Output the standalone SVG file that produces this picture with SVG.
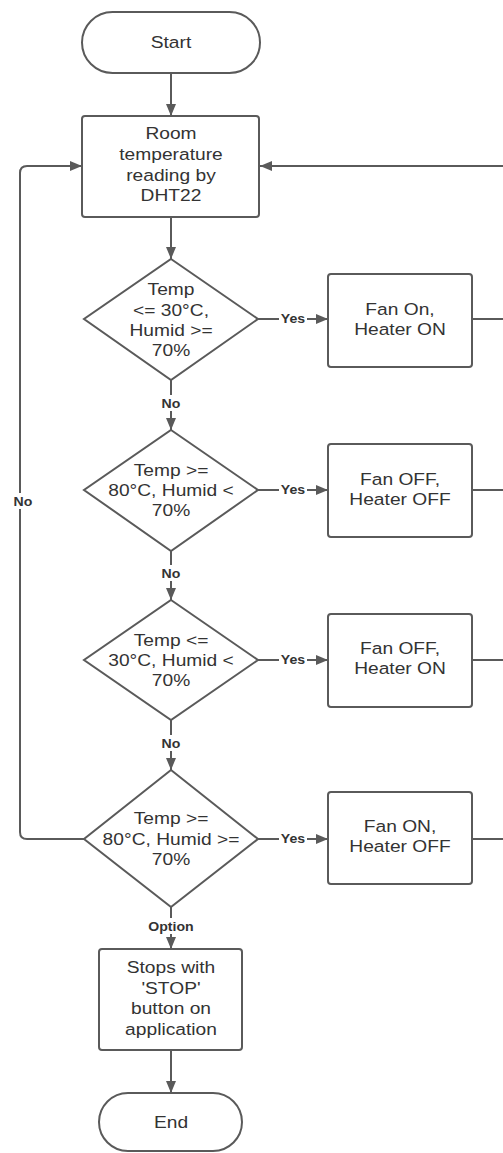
<svg xmlns="http://www.w3.org/2000/svg" width="503" height="1153" viewBox="0 0 503 1153">
<style>
.n{fill:#fff;stroke:#5a5a5a;stroke-width:2}
.c{fill:none;stroke:#5a5a5a;stroke-width:2}
.t{font-family:"Liberation Sans",Arial,sans-serif;font-size:17px;fill:#333;text-anchor:middle}
.l{font-family:"Liberation Sans",Arial,sans-serif;font-size:12.5px;font-weight:bold;fill:#333;text-anchor:middle}
.bg{fill:#fff}
</style>
<defs>
<marker id="a" markerUnits="userSpaceOnUse" markerWidth="12" markerHeight="10" refX="12" refY="5" orient="auto">
<path d="M0,0 L12,5 L0,10 z" fill="#5a5a5a"/>
</marker>
</defs>
<g id="connectors">
<line class="c" x1="171" y1="73" x2="171" y2="116" marker-end="url(#a)"/>
<line class="c" x1="171" y1="217" x2="171" y2="259" marker-end="url(#a)"/>
<line class="c" x1="503" y1="166" x2="260" y2="166" marker-end="url(#a)"/>
<path class="c" d="M84,839 H27 Q20,839 20,832 V173 Q20,166 27,166 H82" marker-end="url(#a)"/>
<rect class="bg" x="10" y="493" width="22" height="16"/>
<text class="l" transform="translate(23 0) scale(1.13 1)" x="0" y="506">No</text>
<line class="c" x1="258" y1="319" x2="328" y2="319" marker-end="url(#a)"/>
<rect class="bg" x="279" y="311" width="28" height="16"/>
<text class="l" transform="translate(293 0) scale(1.13 1)" x="0" y="323.5">Yes</text>
<line class="c" x1="472" y1="319" x2="503" y2="319"/>
<line class="c" x1="171" y1="380" x2="171" y2="430" marker-end="url(#a)"/>
<rect class="bg" x="158" y="395" width="26" height="16"/>
<text class="l" transform="translate(171 0) scale(1.13 1)" x="0" y="408">No</text>
<line class="c" x1="258" y1="490" x2="328" y2="490" marker-end="url(#a)"/>
<rect class="bg" x="279" y="482" width="28" height="16"/>
<text class="l" transform="translate(293 0) scale(1.13 1)" x="0" y="494.5">Yes</text>
<line class="c" x1="472" y1="490" x2="503" y2="490"/>
<line class="c" x1="171" y1="551" x2="171" y2="600" marker-end="url(#a)"/>
<rect class="bg" x="158" y="565" width="26" height="16"/>
<text class="l" transform="translate(171 0) scale(1.13 1)" x="0" y="578">No</text>
<line class="c" x1="258" y1="660" x2="328" y2="660" marker-end="url(#a)"/>
<rect class="bg" x="279" y="652" width="28" height="16"/>
<text class="l" transform="translate(293 0) scale(1.13 1)" x="0" y="664.5">Yes</text>
<line class="c" x1="472" y1="660" x2="503" y2="660"/>
<line class="c" x1="171" y1="720" x2="171" y2="770" marker-end="url(#a)"/>
<rect class="bg" x="158" y="735" width="26" height="16"/>
<text class="l" transform="translate(171 0) scale(1.13 1)" x="0" y="748">No</text>
<line class="c" x1="258" y1="839" x2="328" y2="839" marker-end="url(#a)"/>
<rect class="bg" x="279" y="831" width="28" height="16"/>
<text class="l" transform="translate(293 0) scale(1.13 1)" x="0" y="843.5">Yes</text>
<line class="c" x1="472" y1="839" x2="503" y2="839"/>
<line class="c" x1="171" y1="907" x2="171" y2="949" marker-end="url(#a)"/>
<rect class="bg" x="145" y="918" width="52" height="16"/>
<text class="l" transform="translate(171 0) scale(1.13 1)" x="0" y="931">Option</text>
<line class="c" x1="171" y1="1050" x2="171" y2="1093" marker-end="url(#a)"/>
</g>
<g id="start">
<rect class="n" x="82" y="12" width="178" height="61" rx="30.5"/>
<text class="t" transform="translate(171 0) scale(1.13 1)" x="0" y="48">Start</text>
</g>
<g id="read">
<rect class="n" x="82" y="116" width="177" height="101" rx="3"/>
<text class="t" transform="translate(171 0) scale(1.13 1)"><tspan x="0" y="139">Room</tspan><tspan x="0" y="160">temperature</tspan><tspan x="0" y="181">reading by</tspan><tspan x="0" y="201">DHT22</tspan></text>
</g>
<g id="d1">
<polygon class="n" points="171,259 258,319 171,380 84,319"/>
<text class="t" transform="translate(171 0) scale(1.13 1)"><tspan x="0" y="295.5">Temp</tspan><tspan x="0" y="316">&lt;= 30°C,</tspan><tspan x="0" y="336">Humid &gt;=</tspan><tspan x="0" y="356">70%</tspan></text>
</g>
<g id="b1">
<rect class="n" x="328" y="274" width="144" height="93" rx="3"/>
<text class="t" transform="translate(400 0) scale(1.13 1)"><tspan x="0" y="315">Fan On,</tspan><tspan x="0" y="335">Heater ON</tspan></text>
</g>
<g id="d2">
<polygon class="n" points="171,430 258,490 171,551 84,490"/>
<text class="t" transform="translate(171 0) scale(1.13 1)"><tspan x="0" y="476">Temp &gt;=</tspan><tspan x="0" y="496">80°C, Humid &lt;</tspan><tspan x="0" y="516">70%</tspan></text>
</g>
<g id="b2">
<rect class="n" x="328" y="444" width="144" height="93" rx="3"/>
<text class="t" transform="translate(400 0) scale(1.13 1)"><tspan x="0" y="485">Fan OFF,</tspan><tspan x="0" y="505">Heater OFF</tspan></text>
</g>
<g id="d3">
<polygon class="n" points="171,600 258,660 171,720 84,660"/>
<text class="t" transform="translate(171 0) scale(1.13 1)"><tspan x="0" y="646">Temp &lt;=</tspan><tspan x="0" y="666">30°C, Humid &lt;</tspan><tspan x="0" y="686">70%</tspan></text>
</g>
<g id="b3">
<rect class="n" x="328" y="614" width="144" height="93" rx="3"/>
<text class="t" transform="translate(400 0) scale(1.13 1)"><tspan x="0" y="654">Fan OFF,</tspan><tspan x="0" y="674">Heater ON</tspan></text>
</g>
<g id="d4">
<polygon class="n" points="171,770 258,839 171,907 84,839"/>
<text class="t" transform="translate(171 0) scale(1.13 1)"><tspan x="0" y="824">Temp &gt;=</tspan><tspan x="0" y="845">80°C, Humid &gt;=</tspan><tspan x="0" y="865">70%</tspan></text>
</g>
<g id="b4">
<rect class="n" x="328" y="792" width="144" height="92" rx="3"/>
<text class="t" transform="translate(400 0) scale(1.13 1)"><tspan x="0" y="832">Fan ON,</tspan><tspan x="0" y="852">Heater OFF</tspan></text>
</g>
<g id="stop">
<rect class="n" x="99" y="949" width="143" height="101" rx="3"/>
<text class="t" transform="translate(171 0) scale(1.13 1)"><tspan x="0" y="973">Stops with</tspan><tspan x="0" y="994">'STOP'</tspan><tspan x="0" y="1014">button on</tspan><tspan x="0" y="1035">application</tspan></text>
</g>
<g id="end">
<rect class="n" x="99" y="1093" width="143" height="58" rx="29"/>
<text class="t" transform="translate(171 0) scale(1.13 1)" x="0" y="1128">End</text>
</g>
</svg>
